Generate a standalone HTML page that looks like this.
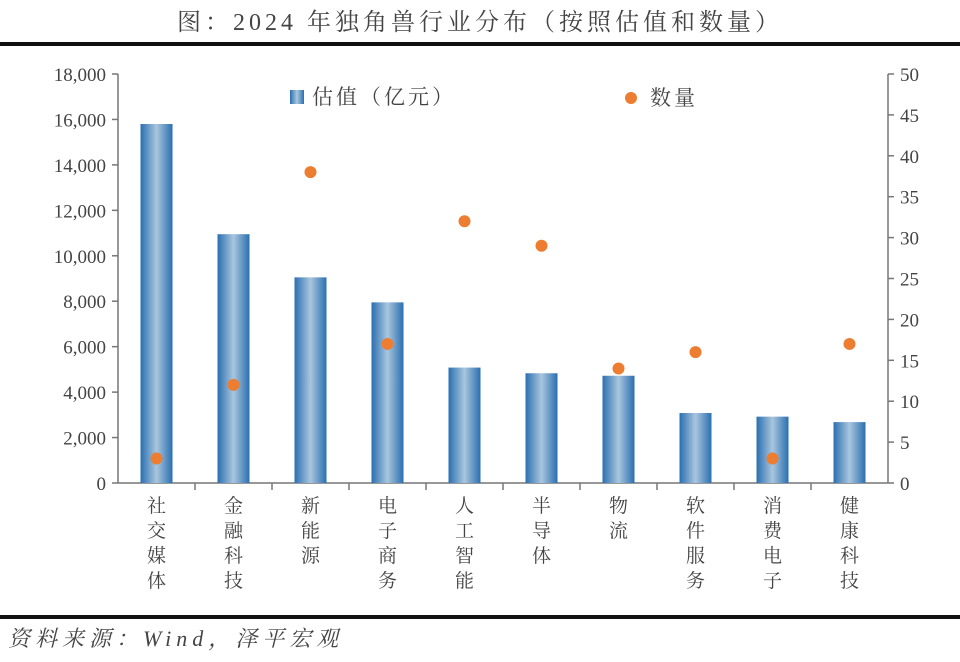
<!DOCTYPE html>
<html><head><meta charset="utf-8"><style>
body{margin:0;background:#fff;}
svg text{font-family:"Liberation Serif","Noto Serif CJK SC",serif;fill:#444;}
</style></head><body>
<svg width="960" height="657" viewBox="0 0 960 657" xmlns="http://www.w3.org/2000/svg">
<defs>
<linearGradient id="g" x1="0" x2="1" y1="0" y2="0">
<stop offset="0" stop-color="#2a6fb0"/><stop offset="0.5" stop-color="#a9c6de"/><stop offset="1" stop-color="#2a6fb0"/>
</linearGradient>
</defs>
<text x="480" y="30" font-size="24" text-anchor="middle" fill="#333" letter-spacing="4">图：2024 年独角兽行业分布（按照估值和数量）</text>
<rect x="0" y="42" width="960" height="4" fill="#111"/>
<rect x="0" y="615" width="960" height="4" fill="#111"/>
<text x="8" y="646" font-size="22" font-style="italic" fill="#333" letter-spacing="5">资料来源：Wind，泽平宏观</text>
<g stroke="#777" stroke-width="1.5" fill="none">
<line x1="118" y1="74" x2="118" y2="483"/>
<line x1="118" y1="483" x2="888" y2="483"/>
<line x1="888" y1="74" x2="888" y2="483"/>
</g>
<script>
const s="http://www.w3.org/2000/svg",svg=document.querySelector('svg');
function el(t,a,txt){const e=document.createElementNS(s,t);for(const k in a)e.setAttribute(k,a[k]);if(txt!=null)e.textContent=txt;svg.appendChild(e);return e;}
for(let i=0;i<=9;i++){const v=i*2000,y=483-v/18000*409;
el('line',{x1:112,y1:y,x2:118,y2:y,stroke:'#777','stroke-width':1.5});
el('text',{x:106,y:y+7,'font-size':19,'text-anchor':'end'},v.toLocaleString('en-US'));}
for(let i=0;i<=10;i++){const v=i*5,y=483-v/50*409;
el('line',{x1:888,y1:y,x2:894,y2:y,stroke:'#777','stroke-width':1.5});
el('text',{x:900,y:y+7,'font-size':19},v);}
const cats=["社交媒体","金融科技","新能源","电子商务","人工智能","半导体","物流","软件服务","消费电子","健康科技"];
const val=[15800,10950,9050,7950,5080,4830,4720,3080,2920,2680];
const cnt=[3,12,38,17,32,29,14,16,3,17];
for(let i=0;i<10;i++){const cx=118+77*i+38.5;
if(i>0)el('line',{x1:118+77*i,y1:483,x2:118+77*i,y2:490,stroke:'#777','stroke-width':1.5});
const y=483-val[i]/18000*409;
el('rect',{x:cx-16,y:y,width:32,height:483-y,fill:'url(#g)'});
[...cats[i]].forEach((c,j)=>el('text',{x:cx,y:512+j*25,'font-size':19,'text-anchor':'middle'},c));}
for(let i=0;i<10;i++){const cx=118+77*i+38.5;el('circle',{cx:cx,cy:483-cnt[i]/50*409,r:6,fill:'#ed7d31'});}
el('rect',{x:290,y:90,width:14,height:14,fill:'url(#g)'});
el('text',{x:312,y:104,'font-size':21,'letter-spacing':3},'估值（亿元）');
el('circle',{cx:631,cy:98,r:6,fill:'#ed7d31'});
el('text',{x:650,y:105,'font-size':21,'letter-spacing':3},'数量');
</script>
</svg>
</body></html>
